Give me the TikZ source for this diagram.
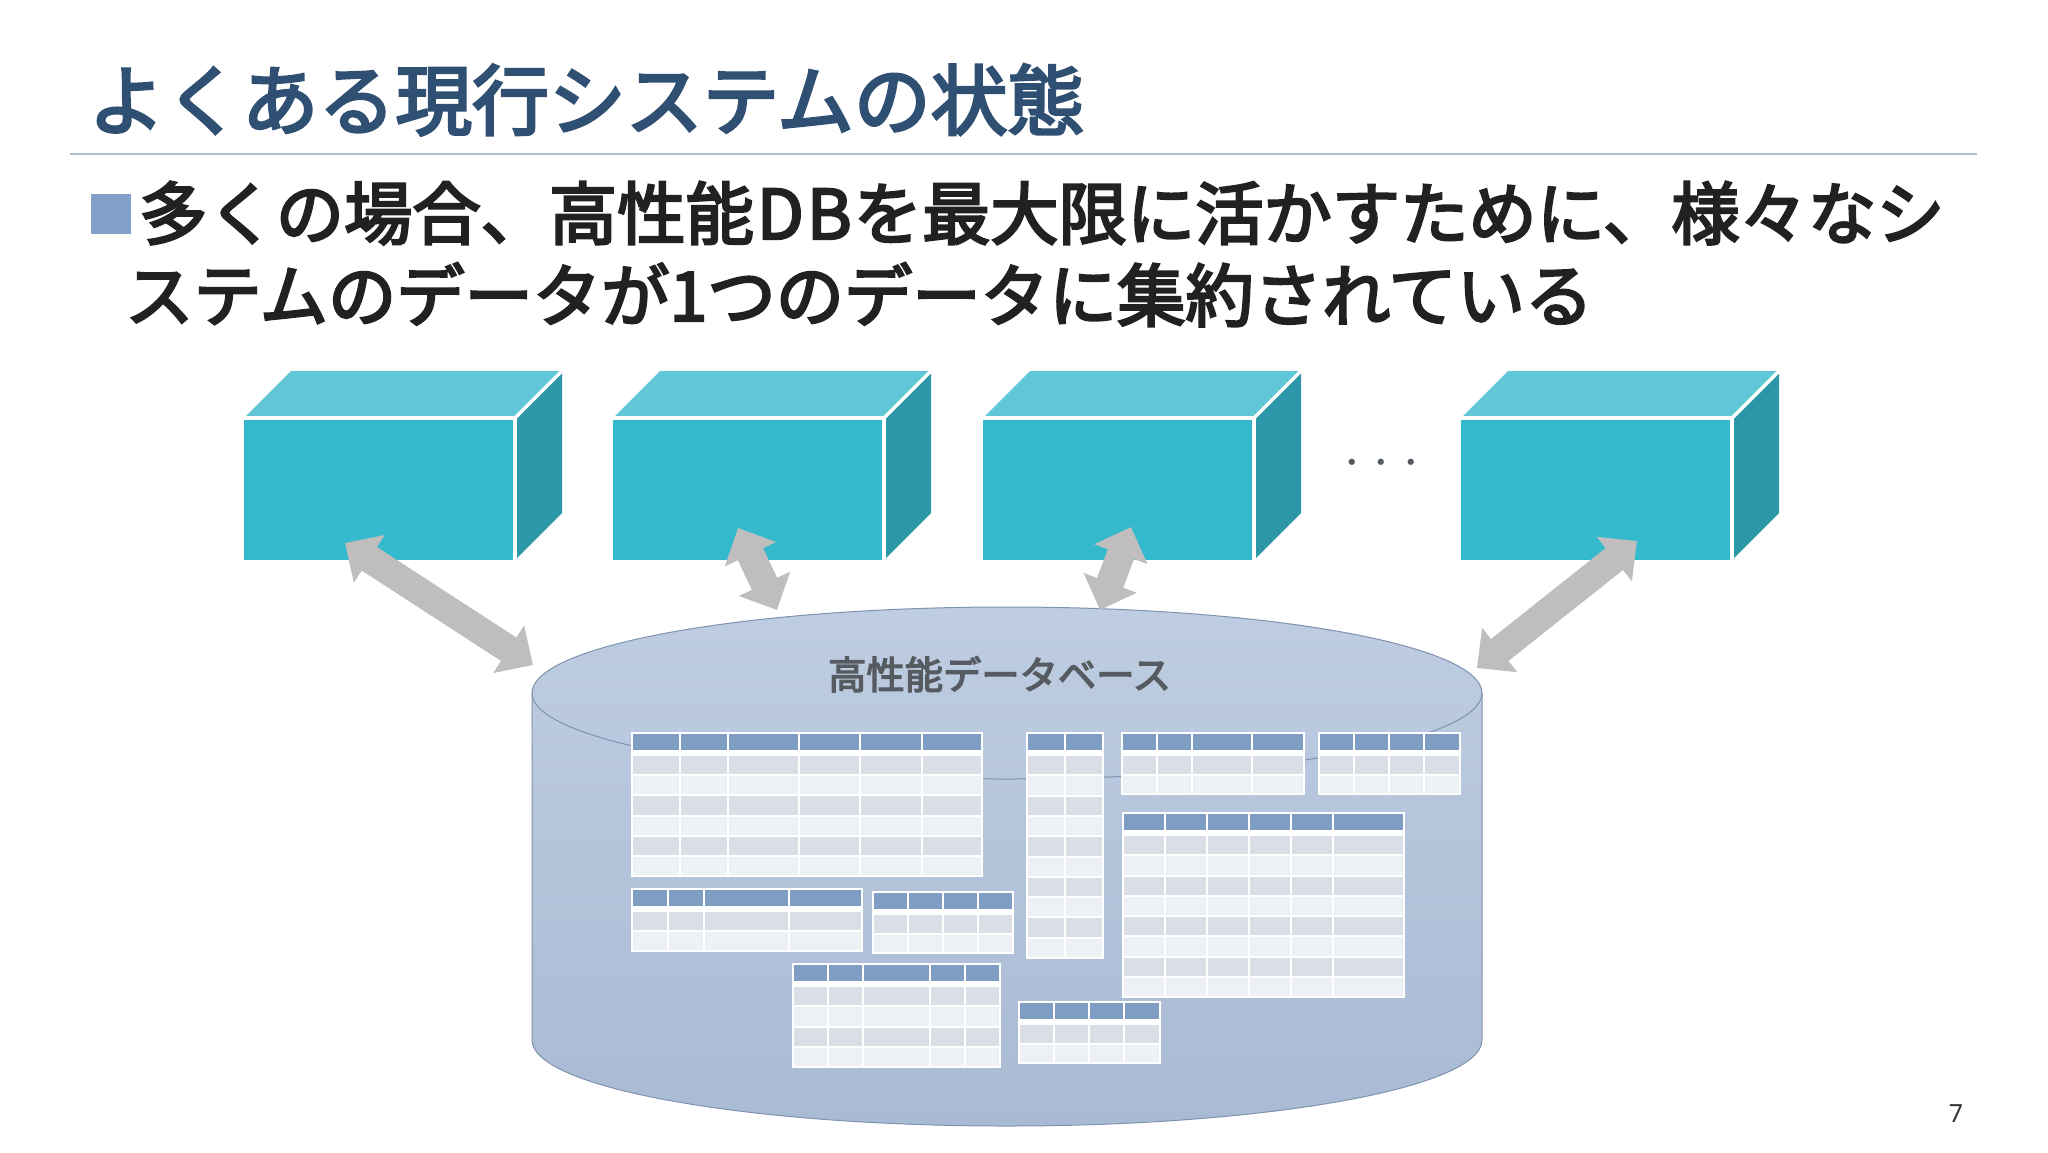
\documentclass[tikz,border=0pt]{standalone}
\usepackage{fontspec}
\setmainfont{Noto Sans CJK JP}
\newfontfamily\jpmed[FakeBold=3.5]{Noto Sans CJK JP}
\newfontfamily\numfont{Noto Sans}
\usetikzlibrary{arrows.meta,positioning}
\definecolor{titleblue}{HTML}{2F4F73}
\definecolor{bulletblue}{HTML}{83A1C8}
\definecolor{rulecol}{HTML}{A9C2D4}
\definecolor{boxfront}{HTML}{35BACD}
\definecolor{boxtop}{HTML}{5FC7D7}
\definecolor{boxside}{HTML}{2B97A8}
\definecolor{arrowgray}{HTML}{BFBDBE}
\definecolor{dbtop}{HTML}{BECDE1}
\definecolor{dbbottom}{HTML}{A9BAD4}
\definecolor{dbline}{HTML}{7F93B0}
\definecolor{headcol}{HTML}{7F9DC2}
\definecolor{rowdarkcol}{HTML}{D9DEE7}
\definecolor{rowlightcol}{HTML}{EDF0F5}
\definecolor{labelgray}{HTML}{555B60}

% one small table: left, top, right, bottom, column lines, rows
\newcommand{\dbtable}[6]{%
	\fill[white] (#1,#2) rectangle (#3,#4);
	\fill[headcol] ({#1+2},{#2+2}) rectangle ({#3-2},{#2+18});
	\pgfmathsetmacro{\rowh}{(#4-#2-24)/#6}
	\foreach \r in {1,...,#6} {
		\ifodd\r \def\rowfill{rowdarkcol}\else \def\rowfill{rowlightcol}\fi
		\fill[\rowfill] ({#1+2},{#2+24+(\r-1)*\rowh}) rectangle ({#3-2},{#2+24+\r*\rowh-2});
	}
	\foreach \c in {#5} {
		\draw[white, line width=2pt] (\c,#2) -- (\c,#4);
	}
}

\begin{document}
\begin{tikzpicture}[
	x=1pt, y=-1pt,
	titletext/.style={
		anchor=base west,
		inner sep=0pt,
		text=titleblue,
		font=\jpmed\fontsize{76.8}{80}\selectfont
	},
	bodytext/.style={
		anchor=base west,
		inner sep=0pt,
		text=black!87,
		font=\jpmed\fontsize{68.3}{72}\selectfont
	},
	frontface/.style={
		rectangle,
		fill=boxfront,
		minimum width=271pt,
		minimum height=142pt,
		inner sep=0pt,
		outer sep=0pt
	},
	dbarrow/.style={
		arrowgray,
		line width=28pt,
		{Triangle[width=55pt,length=29pt]}-{Triangle[width=55pt,length=29pt]}
	},
	dbshape/.style={
		draw=dbline,
		line width=1pt,
		top color=dbtop,
		bottom color=dbbottom
	}
  ]
	\useasboundingbox (0,0) rectangle (2048,1152);

	% heading and text
	\node [titletext] (title) at (88,129) {よくある現行システムの状態};
	\coordinate (ruleleft) at (70,154);
	\coordinate (ruleright) at (1977,154);
	\draw [rulecol, line width=1.5pt] (ruleleft) -- (ruleright);
	\fill [bulletblue] (91,194) rectangle (131,234);
	\node [bodytext] (line1) at (139,239) {多くの場合、高性能\kern3pt D\kern3pt B\kern2pt を最大限に活かすために、様々なシ};
	\node [bodytext] (line2) at (125,321) {ステムのデータが1つのデータに集約されている};

	% the blocks
	\node [frontface] (box1) at (379.5,489) {};
	\node [frontface, right=98pt of box1] (box2) {};
	\node [frontface, right=99pt of box2] (box3) {};
	\node [frontface, right=207pt of box3] (box4) {};
	\foreach \b in {box1,box2,box3,box4} {
		\fill [boxtop] (\b.north west) -- ++(47,-47) -- ++(271,0) -- (\b.north east) -- cycle;
		\fill [boxside] (\b.north east) -- ++(47,-47) -- ++(0,142) -- (\b.south east) -- cycle;
		\draw [white, line width=3.5pt] (\b.north west) -- (\b.north east) -- (\b.south east);
		\draw [white, line width=3.5pt] (\b.north east) -- ++(47,-47);
	}
	\node [text=labelgray, inner sep=0pt, font=\fontsize{29.5}{32}\selectfont] (dots) at (1381.5,466) {・・・};

	% the database
	\path [dbshape] (532,693) -- (532,1040)
		arc [start angle=180, end angle=360, x radius=475pt, y radius=86pt]
		-- (1482,693)
		arc [start angle=0, end angle=180, x radius=475pt, y radius=86pt] -- cycle;
	\draw [dbline, line width=1pt] (532,693)
		arc [start angle=180, end angle=360, x radius=475pt, y radius=86pt];
	\node [anchor=base, inner sep=0pt, text=labelgray, font=\jpmed\fontsize{38.3}{40}\selectfont] (dblabel) at (999.5,689) {高性能データベース};

	% tables
	\dbtable{631}{732}{983}{877}{680,728,799,860,922}{6}
	\dbtable{631}{888}{863}{952}{668,704,789}{2}
	\dbtable{872}{891}{1014}{954}{908,943,978}{2}
	\dbtable{792}{963}{1001}{1068}{828,863,930,965}{4}
	\dbtable{1026}{732}{1104}{959}{1065}{10}
	\dbtable{1121}{732}{1305}{795}{1157,1192,1252}{2}
	\dbtable{1318}{732}{1461}{795}{1354,1389,1424}{2}
	\dbtable{1122}{812}{1405}{998}{1165,1207,1249,1291,1333}{8}
	\dbtable{1018}{1001}{1161}{1064}{1054,1089,1124}{2}

	% arrows between blocks and database
	\coordinate (up1) at (345,543);
	\coordinate (dn1) at (533,665);
	\coordinate (up2) at (738,528);
	\coordinate (dn2) at (777,610);
	\coordinate (up3) at (1131,527);
	\coordinate (dn3) at (1100,610);
	\coordinate (up4) at (1637,541);
	\coordinate (dn4) at (1477,668);
	\foreach \i in {1,2,3,4} {
		\draw [dbarrow] (up\i) -- (dn\i);
	}

	\node [text=black!80, inner sep=0pt, font=\numfont\fontsize{25}{28}\selectfont] (pagenum) at (1956,1114) {7};
\end{tikzpicture}
\end{document}
